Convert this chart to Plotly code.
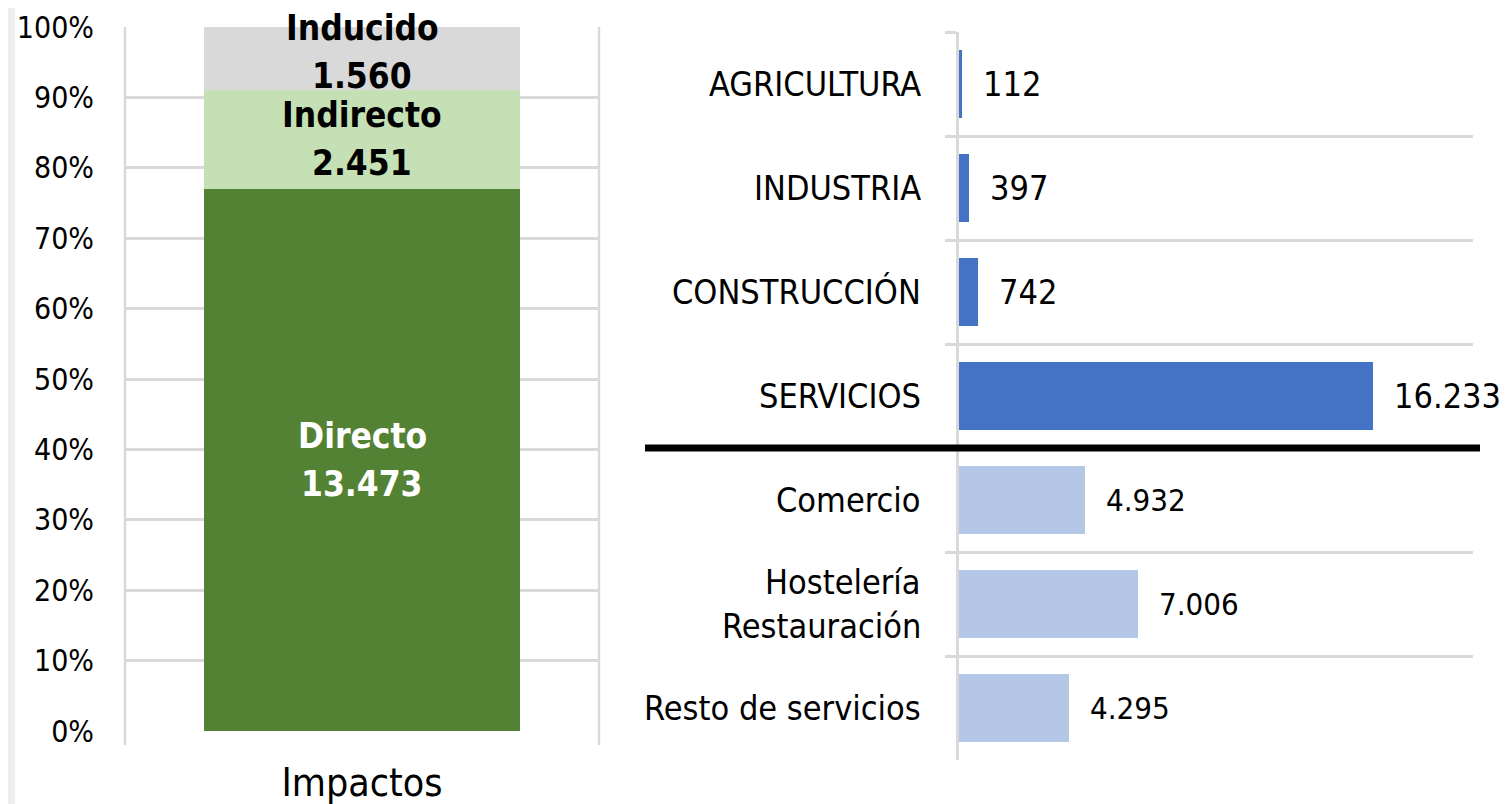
import plotly.graph_objects as go

# ---------------- data ----------------
impact_names = ["Directo", "Indirecto", "Inducido"]
impact_values = [13473, 2451, 1560]
impact_category = "Impactos"

sectors = ["AGRICULTURA", "INDUSTRIA", "CONSTRUCCIÓN", "SERVICIOS",
           "Comercio", "Hostelería Restauración", "Resto de servicios"]
sector_labels = ["AGRICULTURA", "INDUSTRIA", "CONSTRUCCIÓN", "SERVICIOS",
                 "Comercio", "Hostelería\nRestauración", "Resto de servicios"]
sector_values = [112, 397, 742, 16233, 4932, 7006, 4295]
pct_ticks = [0, 10, 20, 30, 40, 50, 60, 70, 80, 90, 100]

# ---------------- style ----------------
FONT = "DejaVu Sans Condensed, Liberation Sans Narrow, sans-serif"
GRID = "#d9d9d9"
impact_colors = ["#548235", "#C5E0B4", "#D9D9D9"]
impact_text_colors = ["#ffffff", "#000000", "#000000"]
sector_colors = ["#4472C4"] * 4 + ["#B4C7E7"] * 3
OFF = 8                       # page body margin
W, H = 1509 - OFF, 804 - OFF


def fmt(v):
    return f"{v:,}".replace(",", ".")


def py(p):  # screen pixel y -> paper y
    return 1 - (p - OFF) / H


def px(p):  # screen pixel x -> paper x
    return (p - OFF) / W


total = sum(impact_values)
shares = [v / total * 100 for v in impact_values]

fig = go.Figure()

# left: 100% stacked column
for name, s, c in zip(impact_names, shares, impact_colors):
    fig.add_trace(go.Bar(x=[impact_category], y=[s], name=name, marker_color=c,
                         marker_line_width=0, width=0.667, xaxis="x", yaxis="y",
                         hoverinfo="skip"))

# right: horizontal bars
fig.add_trace(go.Bar(y=sectors, x=sector_values, orientation="h",
                     marker_color=sector_colors, marker_line_width=0, width=0.654,
                     xaxis="x2", yaxis="y2", hoverinfo="skip"))

annotations = []
# segment labels
cum = 0
for i, (name, v, s) in enumerate(zip(impact_names, impact_values, shares)):
    mid = cum + s / 2
    cum += s
    extra = 6 if i == len(impact_names) - 1 else 0
    for txt, off in ((name, 24), (fmt(v), -24)):
        annotations.append(dict(x=impact_category, y=mid, xref="x", yref="y",
                                text=f"<b>{txt}</b>", showarrow=False,
                                yshift=off + extra,
                                font=dict(family=FONT, size=35,
                                          color=impact_text_colors[i])))

# sector category labels and value labels
for i, (cat, lab, v) in enumerate(zip(sectors, sector_labels, sector_values)):
    lines = lab.split("\n")
    n = len(lines)
    for j, ln in enumerate(lines):
        off = ((n - 1) / 2 - j) * 44
        annotations.append(dict(x=0, y=cat, xref="x2 domain", yref="y2", text=ln,
                                showarrow=False, xanchor="right", xshift=-36,
                                yshift=off,
                                font=dict(family=FONT, size=34, color="#000")))
    annotations.append(dict(x=v, y=cat, xref="x2", yref="y2", text=fmt(v),
                            showarrow=False, xanchor="left", xshift=19,
                            font=dict(family=FONT, size=34 if i < 4 else 31,
                                      color="#000")))

shapes = []
# left plot border/tick lines
for xd in (0, 1):
    shapes.append(dict(type="line", xref="x domain", yref="paper", x0=xd, x1=xd,
                       y0=py(745), y1=py(27), line=dict(color=GRID, width=2.5),
                       layer="below"))
# thick separator line between SERVICIOS and sub-sectors
shapes.append(dict(type="line", xref="paper", yref="y2", x0=px(645), x1=px(1480),
                   y0=3.5, y1=3.5, line=dict(color="#000", width=7)))
# faint grey strip at far left edge
shapes.append(dict(type="rect", xref="paper", yref="paper", x0=0, x1=px(15),
                   y0=0, y1=1, fillcolor="#eeeeee", line_width=0, layer="below"))

fig.update_layout(
    width=W, height=H, template="none",
    paper_bgcolor="white", plot_bgcolor="rgba(0,0,0,0)",
    margin=dict(l=0, r=0, t=0, b=0),
    barmode="stack", showlegend=False,
    font=dict(family=FONT, color="#000"),
    annotations=annotations, shapes=shapes,
    xaxis=dict(domain=[px(125), px(599)], anchor="y", type="category",
               showgrid=False, zeroline=False, showline=False, ticks="",
               tickfont=dict(family=FONT, size=39, color="#000"),
               ticklabelstandoff=25, automargin=False),
    yaxis=dict(domain=[py(731), py(27)], anchor="x", range=[0, 100],
               tickvals=pct_ticks, ticktext=[f"{t}%" for t in pct_ticks],
               showgrid=True, gridcolor=GRID, gridwidth=2.5, zeroline=False,
               showline=False, ticks="", ticklabelstandoff=30,
               tickfont=dict(family=FONT, size=30, color="#000"),
               automargin=False),
    xaxis2=dict(domain=[px(959), px(1473)], anchor="y2", range=[0, 20150],
                showgrid=False, zeroline=False, showline=False,
                showticklabels=False, ticks="", automargin=False),
    yaxis2=dict(domain=[py(760), py(32)], anchor="x2", type="category",
                categoryorder="array", categoryarray=sectors,
                range=[6.5, -0.5], tickson="boundaries",
                showgrid=True, gridcolor=GRID, gridwidth=2.5,
                ticks="outside", ticklen=11, tickcolor=GRID, tickwidth=2.5,
                showline=True, linecolor=GRID, linewidth=2.5,
                showticklabels=False, zeroline=False, automargin=False),
)

fig.write_html("out.html")
